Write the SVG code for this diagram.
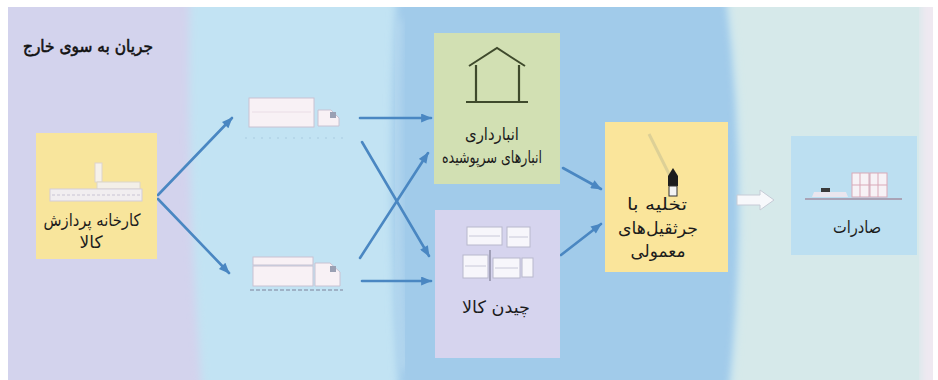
<svg xmlns="http://www.w3.org/2000/svg" width="938" height="380" viewBox="0 0 938 380">
  <style>
    .lbl { font-family: "DejaVu Sans", "Noto Sans", sans-serif; font-size: 17px; fill: #1c1c1c; text-anchor: middle; direction: rtl; }
    .title { font-family: "DejaVu Sans", "Noto Sans", sans-serif; font-size: 17px; fill: #111; stroke: #111; stroke-width: 0.6; text-anchor: middle; direction: rtl; }
    .flow { fill: none; stroke: #4a87c2; stroke-width: 2.6; stroke-linecap: round; marker-end: url(#head); }
    .crate { fill: #f7f6fb; stroke: #b8b8cc; stroke-width: 1; }
    .truck { fill: #f8f1f5; stroke: #c9c2d2; stroke-width: 1; }
  </style>
  <defs>
    <marker id="head" viewBox="0 0 12 10" refX="11" refY="5" markerWidth="12" markerHeight="9" markerUnits="userSpaceOnUse" orient="auto">
      <path d="M0,0 L12,5 L0,10 Z" fill="#4a87c2"/>
    </marker>
    <clipPath id="frame"><rect x="8" y="7" width="925" height="373"/></clipPath>
    <filter id="soft" x="-5%" y="-5%" width="110%" height="110%"><feGaussianBlur stdDeviation="4"/></filter>
  </defs>

  <!-- background bands -->
  <rect width="938" height="380" fill="#ffffff"/>
  <g clip-path="url(#frame)">
    <rect x="0" y="0" width="938" height="380" fill="#d3d3ed"/>
    <path d="M190,-10 Q186,190 202,390 L950,390 L950,-10 Z" fill="#c2e3f3" filter="url(#soft)"/>
    <path d="M397,-10 Q386,190 399,390 L731,390 Q752,190 727,-10 Z" fill="#a1cbea" filter="url(#soft)"/>
    <path d="M398,20 Q392,200 404,370" fill="none" stroke="#b6d8ef" stroke-width="8" filter="url(#soft)"/>
    <path d="M727,-10 Q752,190 731,390 L950,390 L950,-10 Z" fill="#d6e9ea" filter="url(#soft)"/>
    <rect x="921" y="-10" width="30" height="400" fill="#efe9f1" filter="url(#soft)"/>
  </g>

  <text class="title" x="88" y="52" textLength="130" lengthAdjust="spacingAndGlyphs">جریان به سوی خارج</text>

  <!-- connectors -->
  <g id="connectors">
    <line class="flow" x1="158" y1="195" x2="232" y2="118"/>
    <line class="flow" x1="158" y1="199" x2="229" y2="273"/>
    <line class="flow" x1="360" y1="118" x2="431" y2="118"/>
    <line class="flow" x1="362" y1="142" x2="429" y2="256"/>
    <line class="flow" x1="360" y1="258" x2="428" y2="153"/>
    <line class="flow" x1="362" y1="281" x2="431" y2="281"/>
    <line class="flow" x1="563" y1="168" x2="601" y2="189"/>
    <line class="flow" x1="561" y1="255" x2="601" y2="224"/>
    <!-- block arrow towards export -->
    <path d="M737,195 L760,195 L760,190 L774,200 L760,210 L760,205 L737,205 Z" fill="#f7f8fb" stroke="#c6cbd6" stroke-width="1"/>
  </g>

  <!-- factory -->
  <g id="factory">
    <rect x="36" y="133" width="121" height="126" fill="#f8e59c"/>
    <rect x="95" y="163" width="7" height="19" fill="#f6f1ea" stroke="#ddd4cc" stroke-width="1"/>
    <path d="M97,182 L140,182 L140,189 L97,189 Z" fill="#f3efe8" stroke="#dcd6ca" stroke-width="1"/>
    <rect x="50" y="189" width="92" height="12" fill="#f1eef0" stroke="#d3cdd9" stroke-width="1"/>
    <line x1="52" y1="195" x2="140" y2="195" stroke="#c9c4d4" stroke-width="1" stroke-dasharray="3 2"/>
    <text class="lbl" x="92" y="226" textLength="97" lengthAdjust="spacingAndGlyphs">کارخانه پردازش</text>
    <text class="lbl" x="91" y="248">کالا</text>
  </g>

  <!-- road truck -->
  <g id="truck-small">
    <rect class="truck" x="249" y="98" width="65" height="29"/>
    <line x1="252" y1="112" x2="311" y2="112" stroke="#eadde6" stroke-width="1"/>
    <path d="M318,126 L318,110 L331,110 L339,118 L339,126 Z" class="truck"/>
    <rect x="330" y="112" width="6" height="6" fill="#9aa0b3"/>
    <line x1="245" y1="138" x2="345" y2="138" stroke="#a9cbe0" stroke-width="1" stroke-dasharray="2 6"/>
  </g>

  <!-- articulated truck -->
  <g id="truck-large">
    <rect class="truck" x="253" y="257" width="60" height="8"/>
    <rect class="truck" x="253" y="266" width="60" height="20"/>
    <path d="M315,286 L315,263 L330,263 L340,272 L340,286 Z" class="truck"/>
    <rect x="330" y="266" width="6" height="6" fill="#9aa0b3"/>
    <line x1="250" y1="290" x2="343" y2="290" stroke="#9fb2c6" stroke-width="2" stroke-dasharray="4 2"/>
  </g>

  <!-- covered warehouse -->
  <g id="warehouse">
    <rect x="434" y="33" width="126" height="151" fill="#d2e0b3"/>
    <path d="M469,66 L497,48 L525,66" fill="none" stroke="#3f4a2c" stroke-width="2"/>
    <line x1="476" y1="65" x2="476" y2="102" stroke="#3f4a2c" stroke-width="2.2"/>
    <line x1="519" y1="65" x2="519" y2="102" stroke="#3f4a2c" stroke-width="2.2"/>
    <line x1="466" y1="102" x2="528" y2="102" stroke="#3f4a2c" stroke-width="2.2"/>
    <text class="lbl" x="492" y="140" textLength="54" lengthAdjust="spacingAndGlyphs">انبارداری</text>
    <text class="lbl" x="492" y="163" textLength="100" lengthAdjust="spacingAndGlyphs">انبارهای سرپوشیده</text>
  </g>

  <!-- stacking -->
  <g id="stacking">
    <rect x="435" y="210" width="125" height="148" fill="#d6d4ee"/>
    <rect class="crate" x="467" y="227" width="35" height="18"/>
    <line x1="469" y1="236" x2="500" y2="236" stroke="#c8c8d8" stroke-width="1"/>
    <rect class="crate" x="507" y="227" width="23" height="20"/>
    <line x1="509" y1="237" x2="528" y2="237" stroke="#c8c8d8" stroke-width="1"/>
    <rect class="crate" x="463" y="255" width="25" height="23"/>
    <line x1="465" y1="266" x2="486" y2="266" stroke="#c8c8d8" stroke-width="1"/>
    <rect class="crate" x="493" y="258" width="27" height="20"/>
    <line x1="495" y1="268" x2="518" y2="268" stroke="#c8c8d8" stroke-width="1"/>
    <rect class="crate" x="522" y="258" width="11" height="19"/>
    <line x1="490" y1="250" x2="490" y2="281" stroke="#8f8fa6" stroke-width="1.5"/>
    <text class="lbl" x="496" y="313" textLength="68" lengthAdjust="spacingAndGlyphs">چیدن کالا</text>
  </g>

  <!-- crane unloading -->
  <g id="crane">
    <rect x="605" y="122" width="123" height="150" fill="#fae59b"/>
    <line x1="649" y1="134" x2="670" y2="176" stroke="#ddd096" stroke-width="3"/>
    <path d="M668,186 L668,176 L673,168 L678,176 L678,186 Z" fill="#1d1d1d"/>
    <rect x="669" y="186" width="8" height="10" fill="#f4f4f4" stroke="#333" stroke-width="1"/>
    <text class="lbl" x="657" y="210" textLength="60" lengthAdjust="spacingAndGlyphs">تخلیه با</text>
    <text class="lbl" x="658" y="234" textLength="80" lengthAdjust="spacingAndGlyphs">جرثقیل‌های</text>
    <text class="lbl" x="658" y="257" textLength="55" lengthAdjust="spacingAndGlyphs">معمولی</text>
  </g>

  <!-- export -->
  <g id="export">
    <rect x="791" y="136" width="126" height="119" fill="#bcdff1"/>
    <line x1="805" y1="199" x2="902" y2="199" stroke="#a9a3b6" stroke-width="2"/>
    <path d="M812,197 L848,197 L846,192 L814,192 Z" fill="#eae6ee"/>
    <rect x="821" y="188" width="9" height="4" fill="#3a3a3a"/>
    <rect x="852" y="173" width="17" height="24" fill="#f7f2f6" stroke="#d9a9b8" stroke-width="1"/>
    <rect x="870" y="173" width="17" height="24" fill="#f7f2f6" stroke="#d9a9b8" stroke-width="1"/>
    <line x1="852" y1="185" x2="887" y2="185" stroke="#d9a9b8" stroke-width="1"/>
    <line x1="860" y1="173" x2="860" y2="197" stroke="#d9a9b8" stroke-width="1"/>
    <line x1="878" y1="173" x2="878" y2="197" stroke="#d9a9b8" stroke-width="1"/>
    <text class="lbl" x="857" y="233" textLength="48" lengthAdjust="spacingAndGlyphs">صادرات</text>
  </g>
</svg>
